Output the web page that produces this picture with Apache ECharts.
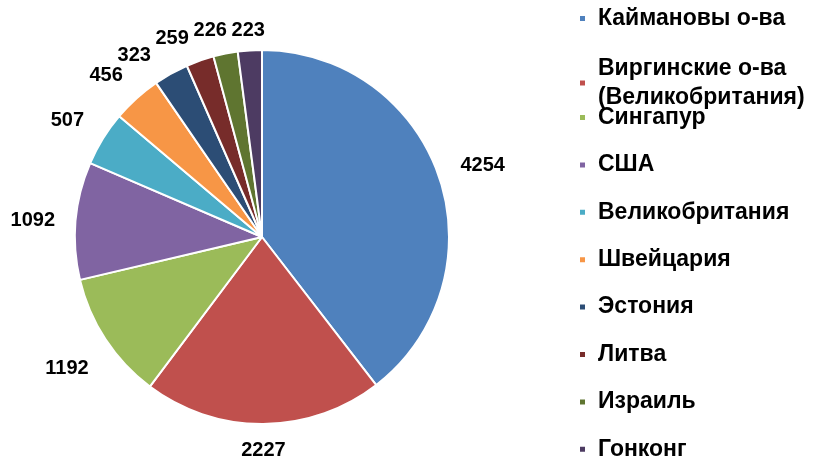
<!DOCTYPE html>
<html>
<head>
<meta charset="utf-8">
<script src="https://cdn.jsdelivr.net/npm/echarts@6/dist/echarts.min.js"></script>
<style>
  html, body { margin: 0; padding: 0; background: #fff; }
  #chart { width: 815px; height: 460px; }
</style>
</head>
<body>
<div id="chart"></div>
<script>
const countries = [
  'Каймановы о-ва',
  'Виргинские о-ва\n(Великобритания)',
  'Сингапур',
  'США',
  'Великобритания',
  'Швейцария',
  'Эстония',
  'Литва',
  'Израиль',
  'Гонконг',
]
const values = [4254, 2227, 1192, 1092, 507, 456, 323, 259, 226, 223]
const colors = [
  '#4F81BD', '#C0504D', '#9BBB59', '#8064A2', '#4BACC6',
  '#F79646', '#2C4D75', '#772C2A', '#5F7530', '#4D3B62',
]

const CX = 262
const CY = 237
const R = 187
const LABEL_FONT = 'bold 20px "Liberation Sans", Arial, sans-serif'
const LABEL_H = 20

const myChart = echarts.init(document.getElementById('chart'))

// ширина подписи
const ctx = document.createElement('canvas').getContext('2d')
ctx.font = LABEL_FONT
const labelWidth = (v) => ctx.measureText(String(v)).width

function labelPos(angle, w) {
  const dx = Math.sin(angle)
  const dy = -Math.cos(angle)
  const d = R + (w / 2 + 19) * Math.abs(dx) + (LABEL_H / 2 + 12) * Math.abs(dy)
  return [CX + d * dx, CY + d * dy + 4]
}

// середины секторов, по часовой стрелке от верха
const total = values.reduce((a, b) => a + b, 0)
let acc = 0
const midAngles = values.map((v) => {
  const mid = (acc + v / 2) / total * Math.PI * 2
  acc += v
  return mid
})

// как в Excel: мелкие подписи сдвигаются против часовой, чтобы не налезать
const labelPositions = []
const placed = []
for (let i = values.length - 1; i >= 0; i--) {
  const w = labelWidth(values[i])
  let a = midAngles[i]
  let p = labelPos(a, w)
  const hits = (q) => placed.some((b) =>
    Math.abs(q[0] - b.x) < (w + b.w) / 2 + 4 && Math.abs(q[1] - b.y) < LABEL_H)
  let n = 0
  while (hits(p) && n < 200) {
    a -= 0.005
    p = labelPos(a, w)
    n++
  }
  placed.push({ x: p[0], y: p[1], w })
  labelPositions[i] = p
}

const legendText = {
  fontFamily: 'Liberation Sans, Arial, sans-serif',
  fontWeight: 'bold',
  fontSize: 23,
  color: '#000',
  padding: [0, 0, 0, 7],
}

const legendBase = {
  orient: 'vertical',
  left: 578,
  padding: 0,
  icon: 'rect',
  itemWidth: 7,
  itemHeight: 7,
  selectedMode: false,
}

const option = {
  animation: false,
  color: colors,
  legend: [
    {
      ...legendBase,
      top: 7,
      itemGap: 0,
      data: countries.slice(0, 1),
      textStyle: { ...legendText, lineHeight: 23 },
    },
    {
      ...legendBase,
      top: 54,
      itemGap: 0,
      data: countries.slice(1, 2),
      textStyle: { ...legendText, lineHeight: 29 },
    },
    {
      ...legendBase,
      top: 106,
      height: 420,
      itemGap: 24.4,
      data: countries.slice(2),
      textStyle: { ...legendText, lineHeight: 23 },
    },
  ],
  series: [
    {
      type: 'pie',
      center: [CX, CY],
      radius: R,
      startAngle: 90,
      clockwise: true,
      avoidLabelOverlap: false,
      itemStyle: {
        borderColor: '#fff',
        borderWidth: 2,
      },
      label: {
        show: true,
        position: 'outside',
        formatter: '{c}',
        fontFamily: 'Liberation Sans, Arial, sans-serif',
        fontWeight: 'bold',
        fontSize: 20,
        color: '#000',
      },
      labelLine: {
        show: false,
      },
      labelLayout: (params) => {
        const p = labelPositions[params.dataIndex]
        return {
          x: p[0],
          y: p[1],
          align: 'center',
          verticalAlign: 'middle',
        }
      },
      emphasis: { disabled: true },
      data: countries.map((name, i) => ({ name, value: values[i] })),
    },
  ],
}

myChart.setOption(option)
</script>
</body>
</html>
